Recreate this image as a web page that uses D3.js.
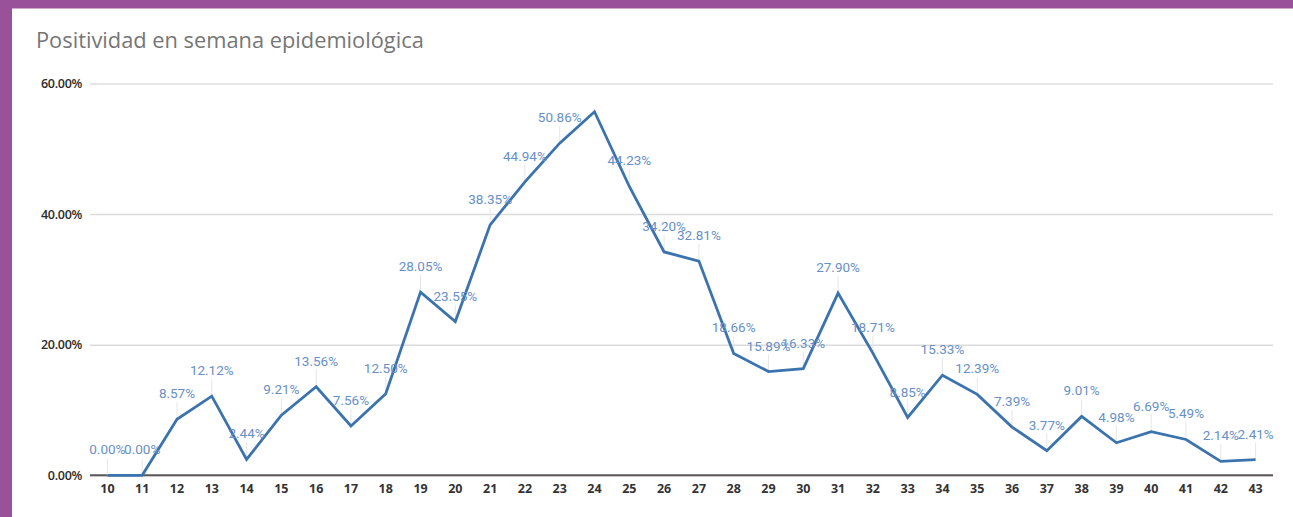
<!DOCTYPE html>
<html>
<head>
<meta charset="utf-8">
<script src="https://cdn.jsdelivr.net/npm/d3@7"></script>
<style>
  html, body { margin: 0; padding: 0; background: #ffffff; }
  svg { display: block; }
</style>
</head>
<body>
<svg id="chart" width="1293" height="517"></svg>
<script>
// ---- data ----
const title = "Positividad en semana epidemiológica";
const weeks = ["10","11","12","13","14","15","16","17","18","19","20","21","22","23","24","25","26",
               "27","28","29","30","31","32","33","34","35","36","37","38","39","40","41","42","43"];
const positivity = [0.00, 0.00, 8.57, 12.12, 2.44, 9.21, 13.56, 7.56, 12.50, 28.05, 23.55, 38.35, 44.94,
                    50.86, 55.68, 44.23, 34.20, 32.81, 18.66, 15.89, 16.33, 27.90, 18.71, 8.85, 15.33,
                    12.39, 7.39, 3.77, 9.01, 4.98, 6.69, 5.49, 2.14, 2.41];
// which points show a data label (the peak label is not shown in the original)
const showLabel = [true,true,true,true,true,true,true,true,true,true,true,true,true,
                   true,false,true,true,true,true,true,true,true,true,true,true,
                   true,true,true,true,true,true,true,true,true];
const yTicks = [0, 20, 40, 60];

// ---- layout ----
const svg = d3.select("#chart");
const W = 1293, H = 517;
const plot = { left: 90, right: 1273, top: 83.5, bottom: 475.3 };

svg.append("rect").attr("x", 0).attr("y", 0).attr("width", W).attr("height", H).attr("fill", "#ffffff");
// purple frame
svg.append("rect").attr("x", 0).attr("y", 0).attr("width", W).attr("height", 8.5).attr("fill", "#99529a");
svg.append("rect").attr("x", 0).attr("y", 0).attr("width", 12).attr("height", H).attr("fill", "#99529a");

const x = d3.scaleBand().domain(weeks).range([plot.left, plot.right]).padding(0);
const y = d3.scaleLinear().domain([0, 60]).range([plot.bottom, plot.top]);
const cx = w => x(w) + x.bandwidth() / 2;

// title
const t = svg.append("text")
  .attr("x", 36).attr("y", 48)
  .attr("font-family", "'Open Sans', sans-serif")
  .attr("font-size", 20)
  .attr("fill", "#767676")
  .text(title);
const tl = t.node().getComputedTextLength();
t.attr("font-size", 20 * 388 / tl);

// gridlines
const yAxis = d3.axisLeft(y).tickValues(yTicks)
  .tickSize(-(plot.right - plot.left))
  .tickPadding(8)
  .tickFormat(d => d3.format(".2f")(d) + "%");
const gy = svg.append("g").attr("transform", `translate(${plot.left},0)`).call(yAxis);
gy.select(".domain").remove();
gy.selectAll(".tick line").attr("stroke", "#dcdcdc").attr("stroke-width", 1.5);
gy.selectAll(".tick text")
  .attr("font-family", "'Open Sans', sans-serif")
  .attr("font-size", 12.5).attr("font-weight", 600)
  .attr("letter-spacing", -0.3)
  .attr("fill", "#2b2b2b");

// x axis
const xAxis = d3.axisBottom(x).tickSize(0).tickPadding(9);
const gx = svg.append("g").attr("transform", `translate(0,${plot.bottom})`).call(xAxis);
gx.select(".domain").remove();
gx.selectAll(".tick text")
  .attr("font-family", "'Open Sans', sans-serif")
  .attr("font-size", 12.5).attr("font-weight", 700)
  .attr("fill", "#333333");
svg.append("line")
  .attr("x1", plot.left).attr("x2", plot.right)
  .attr("y1", y(0)).attr("y2", y(0))
  .attr("stroke", "#5c5757").attr("stroke-width", 2);

const pts = weeks.map((w, i) => ({ w, v: positivity[i], show: showLabel[i] }));

// label leader lines
svg.append("g").selectAll("line").data(pts.filter(d => d.show)).join("line")
  .attr("x1", d => cx(d.w)).attr("x2", d => cx(d.w))
  .attr("y1", d => y(d.v) - 17).attr("y2", d => y(d.v))
  .attr("stroke", "#e6e6e6").attr("stroke-width", 1);

// line
const line = d3.line().x(d => cx(d.w)).y(d => y(d.v));
svg.append("path").datum(pts)
  .attr("d", line)
  .attr("fill", "none")
  .attr("stroke", "#3b73ae")
  .attr("stroke-width", 2.8)
  .attr("stroke-linejoin", "miter");

// data labels
svg.append("g").selectAll("text").data(pts.filter(d => d.show)).join("text")
  .attr("x", d => cx(d.w))
  .attr("y", d => y(d.v) - 21)
  .attr("text-anchor", "middle")
  .attr("font-family", "Roboto, sans-serif")
  .attr("font-size", 13.5)
  .attr("fill", "#6890c6")
  .text(d => d3.format(".2f")(d.v) + "%");
</script>
</body>
</html>
